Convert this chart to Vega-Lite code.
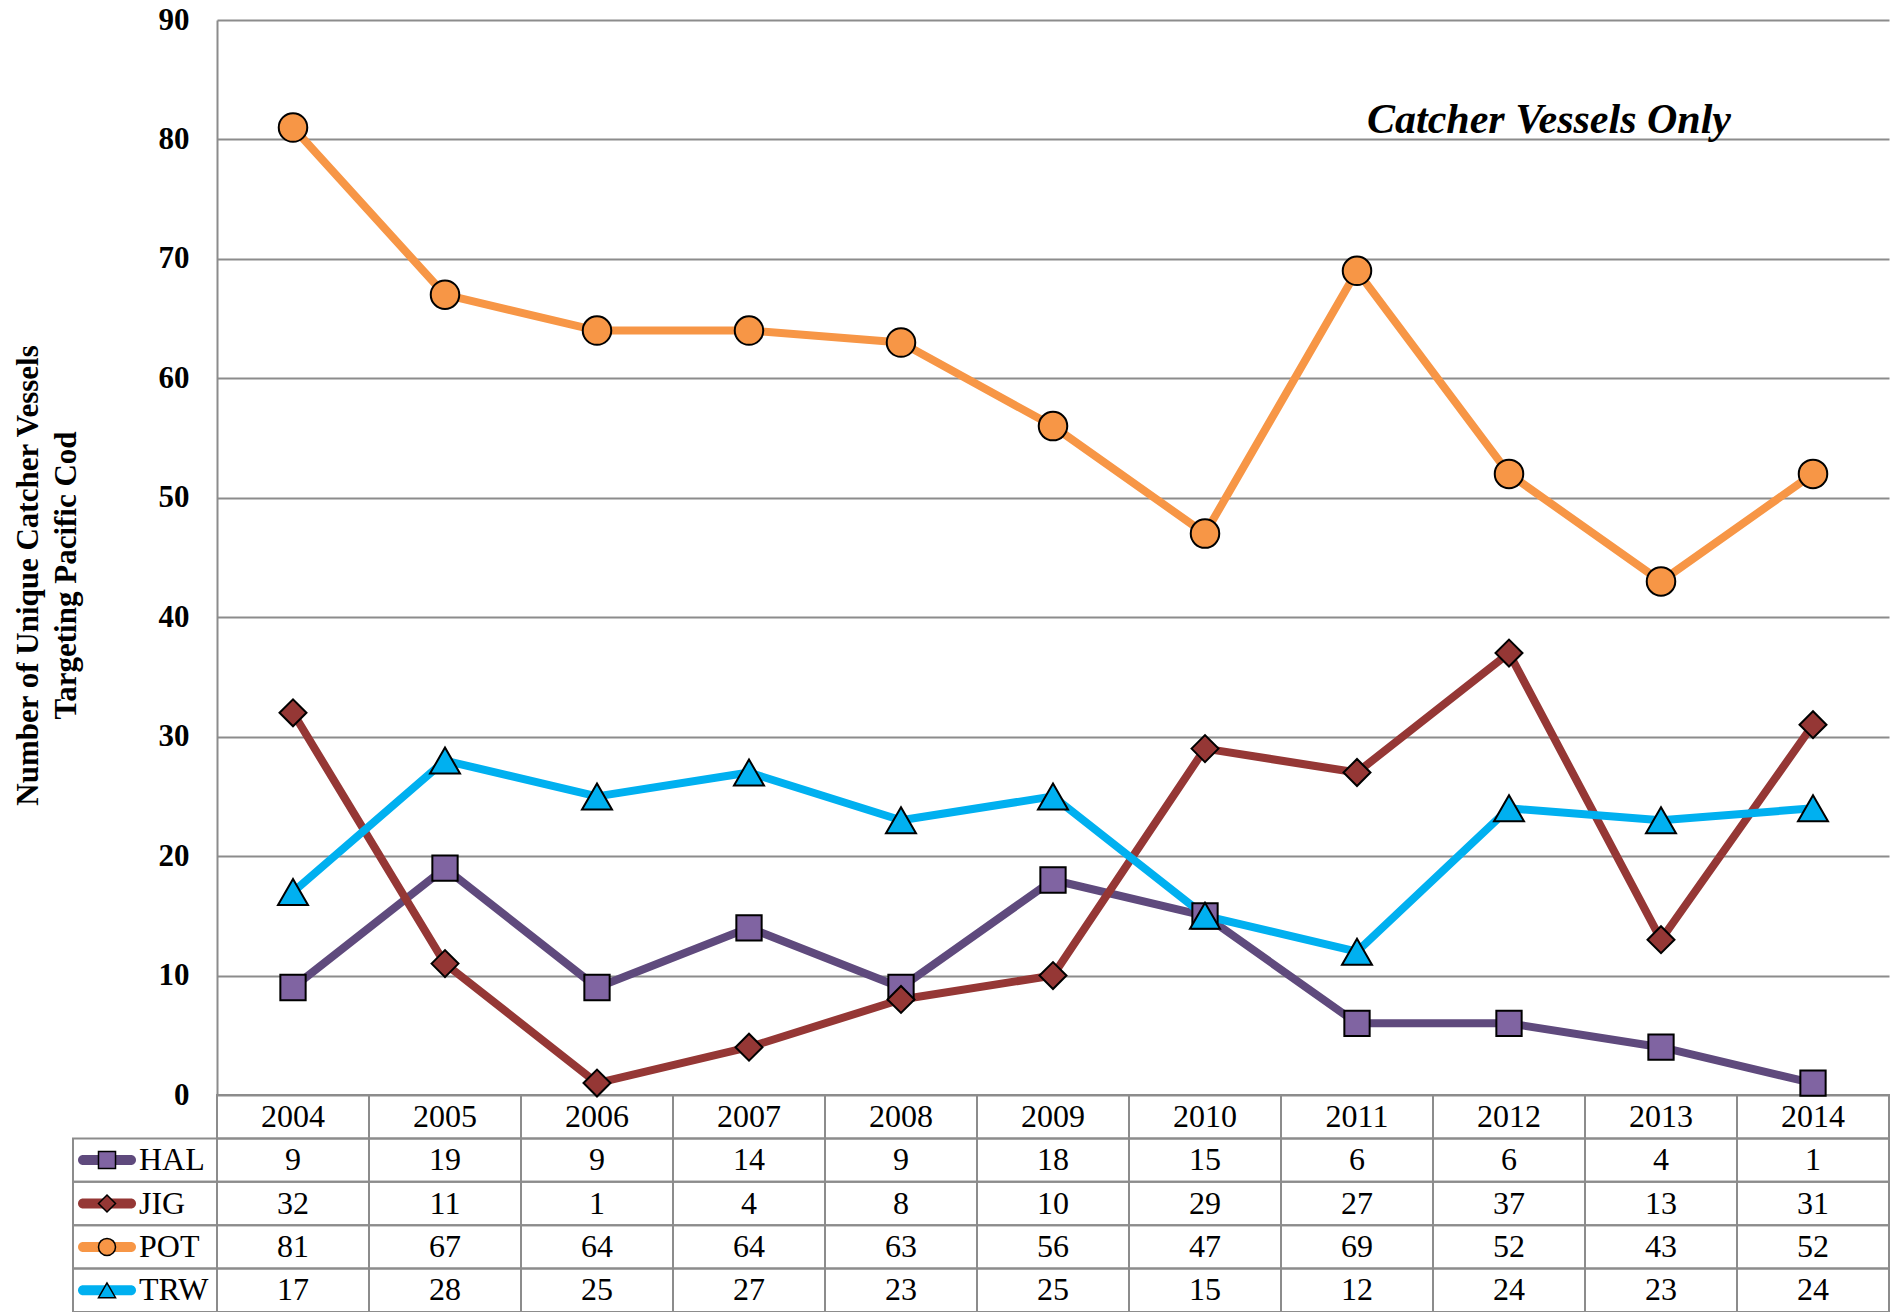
{
  "$schema": "https://vega.github.io/schema/vega-lite/v6.json",
  "width": 1672,
  "height": 1075,
  "autosize": {"type": "none"},
  "padding": {"left": 217, "top": 20, "right": 7, "bottom": 217},
  "background": "white",
  "config": {"view": {"stroke": null}, "font": "Liberation Serif"},
  "data": {
    "values": [
      {"year": "2004", "series": "HAL", "n": 9},
      {"year": "2005", "series": "HAL", "n": 19},
      {"year": "2006", "series": "HAL", "n": 9},
      {"year": "2007", "series": "HAL", "n": 14},
      {"year": "2008", "series": "HAL", "n": 9},
      {"year": "2009", "series": "HAL", "n": 18},
      {"year": "2010", "series": "HAL", "n": 15},
      {"year": "2011", "series": "HAL", "n": 6},
      {"year": "2012", "series": "HAL", "n": 6},
      {"year": "2013", "series": "HAL", "n": 4},
      {"year": "2014", "series": "HAL", "n": 1},
      {"year": "2004", "series": "JIG", "n": 32},
      {"year": "2005", "series": "JIG", "n": 11},
      {"year": "2006", "series": "JIG", "n": 1},
      {"year": "2007", "series": "JIG", "n": 4},
      {"year": "2008", "series": "JIG", "n": 8},
      {"year": "2009", "series": "JIG", "n": 10},
      {"year": "2010", "series": "JIG", "n": 29},
      {"year": "2011", "series": "JIG", "n": 27},
      {"year": "2012", "series": "JIG", "n": 37},
      {"year": "2013", "series": "JIG", "n": 13},
      {"year": "2014", "series": "JIG", "n": 31},
      {"year": "2004", "series": "POT", "n": 81},
      {"year": "2005", "series": "POT", "n": 67},
      {"year": "2006", "series": "POT", "n": 64},
      {"year": "2007", "series": "POT", "n": 64},
      {"year": "2008", "series": "POT", "n": 63},
      {"year": "2009", "series": "POT", "n": 56},
      {"year": "2010", "series": "POT", "n": 47},
      {"year": "2011", "series": "POT", "n": 69},
      {"year": "2012", "series": "POT", "n": 52},
      {"year": "2013", "series": "POT", "n": 43},
      {"year": "2014", "series": "POT", "n": 52},
      {"year": "2004", "series": "TRW", "n": 17},
      {"year": "2005", "series": "TRW", "n": 28},
      {"year": "2006", "series": "TRW", "n": 25},
      {"year": "2007", "series": "TRW", "n": 27},
      {"year": "2008", "series": "TRW", "n": 23},
      {"year": "2009", "series": "TRW", "n": 25},
      {"year": "2010", "series": "TRW", "n": 15},
      {"year": "2011", "series": "TRW", "n": 12},
      {"year": "2012", "series": "TRW", "n": 24},
      {"year": "2013", "series": "TRW", "n": 23},
      {"year": "2014", "series": "TRW", "n": 24}
    ]
  },
  "layer": [
    {
      "transform": [{"filter": "datum.year == '2004'"}],
      "layer": [
        {
          "mark": {"type": "rect", "fill": "white", "fillOpacity": 0, "stroke": "#8c8c8c", "strokeWidth": 2},
          "encoding": {
            "x": {"datum": "legend", "type": "ordinal", "axis": null,
              "scale": {"type": "band", "domain": ["legend"], "range": [-144, 0], "paddingInner": 0, "paddingOuter": 0}},
            "y": {"field": "series", "type": "nominal", "axis": null,
              "scale": {"type": "band", "domain": ["Year", "HAL", "JIG", "POT", "TRW"], "range": [1075, 1292], "paddingInner": 0, "paddingOuter": 0}}
          }
        },
        {
          "mark": {"type": "tick", "orient": "horizontal", "xOffset": -38, "size": 58, "thickness": 10, "cornerRadius": 5, "opacity": 1},
          "encoding": {
            "x": {"datum": "legend", "type": "ordinal", "axis": null, "bandPosition": 0.5},
            "y": {"field": "series", "type": "nominal", "axis": null, "bandPosition": 0.5},
            "color": {"field": "series", "type": "nominal", "legend": null,
              "scale": {"domain": ["HAL", "JIG", "POT", "TRW"], "range": ["#5f4a7d", "#953735", "#f79646", "#00b0f0"]}}
          }
        },
        {
          "mark": {"type": "point", "filled": true, "xOffset": 34, "size": 290, "stroke": "black", "strokeWidth": 1.5, "opacity": 1},
          "encoding": {
            "x": {"datum": "legend", "type": "ordinal", "axis": null, "bandPosition": 0},
            "y": {"field": "series", "type": "nominal", "axis": null, "bandPosition": 0.5},
            "fill": {"field": "series", "type": "nominal", "legend": null,
              "scale": {"domain": ["HAL", "JIG", "POT", "TRW"], "range": ["#8064a2", "#953735", "#f79646", "#00b0f0"]}},
            "shape": {"field": "series", "type": "nominal", "legend": null,
              "scale": {"domain": ["HAL", "JIG", "POT", "TRW"], "range": ["square", "diamond", "circle", "triangle-up"]}}
          }
        },
        {
          "mark": {"type": "text", "fontSize": 32, "color": "black", "baseline": "middle", "align": "left", "dx": 66, "font": "Liberation Serif"},
          "encoding": {
            "x": {"datum": "legend", "type": "ordinal", "axis": null, "bandPosition": 0},
            "y": {"field": "series", "type": "nominal", "axis": null, "bandPosition": 0.5},
            "text": {"field": "series", "type": "nominal"}
          }
        }
      ]
    },
    {
      "layer": [
        {
          "mark": {"type": "rect", "fill": "white", "fillOpacity": 0, "stroke": "#8c8c8c", "strokeWidth": 2},
          "encoding": {
            "x": {"field": "year", "type": "ordinal", "axis": null,
              "scale": {"type": "band", "domain": ["2004", "2005", "2006", "2007", "2008", "2009", "2010", "2011", "2012", "2013", "2014"], "paddingInner": 0, "paddingOuter": 0}},
            "y": {"field": "series", "type": "nominal", "axis": null,
              "scale": {"type": "band", "domain": ["Year", "HAL", "JIG", "POT", "TRW"], "range": [1075, 1292], "paddingInner": 0, "paddingOuter": 0}}
          }
        },
        {
          "transform": [{"filter": "datum.series == 'HAL'"}],
          "mark": {"type": "rect", "fill": "white", "fillOpacity": 0, "stroke": "#8c8c8c", "strokeWidth": 2},
          "encoding": {
            "x": {"field": "year", "type": "ordinal", "axis": null},
            "y": {"datum": "Year", "type": "nominal", "axis": null}
          }
        },
        {
          "mark": {"type": "text", "fontSize": 32, "color": "black", "baseline": "middle", "align": "center", "font": "Liberation Serif"},
          "encoding": {
            "x": {"field": "year", "type": "ordinal", "axis": null, "bandPosition": 0.5},
            "y": {"field": "series", "type": "nominal", "axis": null, "bandPosition": 0.5},
            "text": {"field": "n", "type": "quantitative"}
          }
        },
        {
          "transform": [{"filter": "datum.series == 'HAL'"}],
          "mark": {"type": "text", "fontSize": 32, "color": "black", "baseline": "middle", "align": "center", "font": "Liberation Serif"},
          "encoding": {
            "x": {"field": "year", "type": "ordinal", "axis": null, "bandPosition": 0.5},
            "y": {"datum": "Year", "type": "nominal", "axis": null, "bandPosition": 0.5},
            "text": {"field": "year", "type": "nominal"}
          }
        }
      ]
    },
    {
      "layer": [
        {
          "mark": {"type": "line", "strokeWidth": 8, "strokeJoin": "round", "strokeCap": "round"},
          "encoding": {
            "x": {"field": "year", "type": "ordinal", "axis": null, "bandPosition": 0.5,
              "scale": {"type": "band", "domain": ["2004", "2005", "2006", "2007", "2008", "2009", "2010", "2011", "2012", "2013", "2014"], "paddingInner": 0, "paddingOuter": 0}},
            "y": {"field": "n", "type": "quantitative",
              "scale": {"domain": [0, 90], "nice": false, "zero": true},
              "axis": {
                "values": [0, 10, 20, 30, 40, 50, 60, 70, 80, 90],
                "grid": true, "gridColor": "#8c8c8c", "gridWidth": 2, "gridOpacity": 1,
                "domainColor": "#8c8c8c", "domainWidth": 2,
                "ticks": false, "labelPadding": 28,
                "labelFont": "Liberation Serif", "labelFontSize": 31, "labelFontWeight": "bold", "labelColor": "black",
                "title": ["Number of Unique Catcher Vessels", "Targeting Pacific Cod"],
                "titleFont": "Liberation Serif", "titleFontSize": 31, "titleFontWeight": "bold", "titleColor": "black",
                "titlePadding": 76, "titleLineHeight": 38, "titleY": 555
              }},
            "color": {"field": "series", "type": "nominal", "legend": null}
          }
        },
        {
          "mark": {"type": "point", "filled": true, "stroke": "black", "strokeWidth": 2, "opacity": 1},
          "encoding": {
            "x": {"field": "year", "type": "ordinal", "axis": null, "bandPosition": 0.5},
            "y": {"field": "n", "type": "quantitative"},
            "fill": {"field": "series", "type": "nominal", "legend": null},
            "shape": {"field": "series", "type": "nominal", "legend": null},
            "size": {"field": "series", "type": "nominal", "legend": null,
              "scale": {"domain": ["HAL", "JIG", "POT", "TRW"], "range": [640, 900, 660, 660]}}
          }
        },
        {
          "data": {"values": [{"label": "Catcher Vessels Only"}]},
          "mark": {"type": "text", "fontSize": 42, "fontWeight": "bold", "fontStyle": "italic", "font": "Liberation Serif", "color": "black", "align": "center", "baseline": "alphabetic", "dx": 40, "dy": -6},
          "encoding": {
            "x": {"datum": "2012", "type": "ordinal", "axis": null, "bandPosition": 0.5},
            "y": {"datum": 80, "type": "quantitative"},
            "text": {"field": "label", "type": "nominal"}
          }
        }
      ]
    }
  ],
  "resolve": {"scale": {"x": "independent", "y": "independent"}}
}
